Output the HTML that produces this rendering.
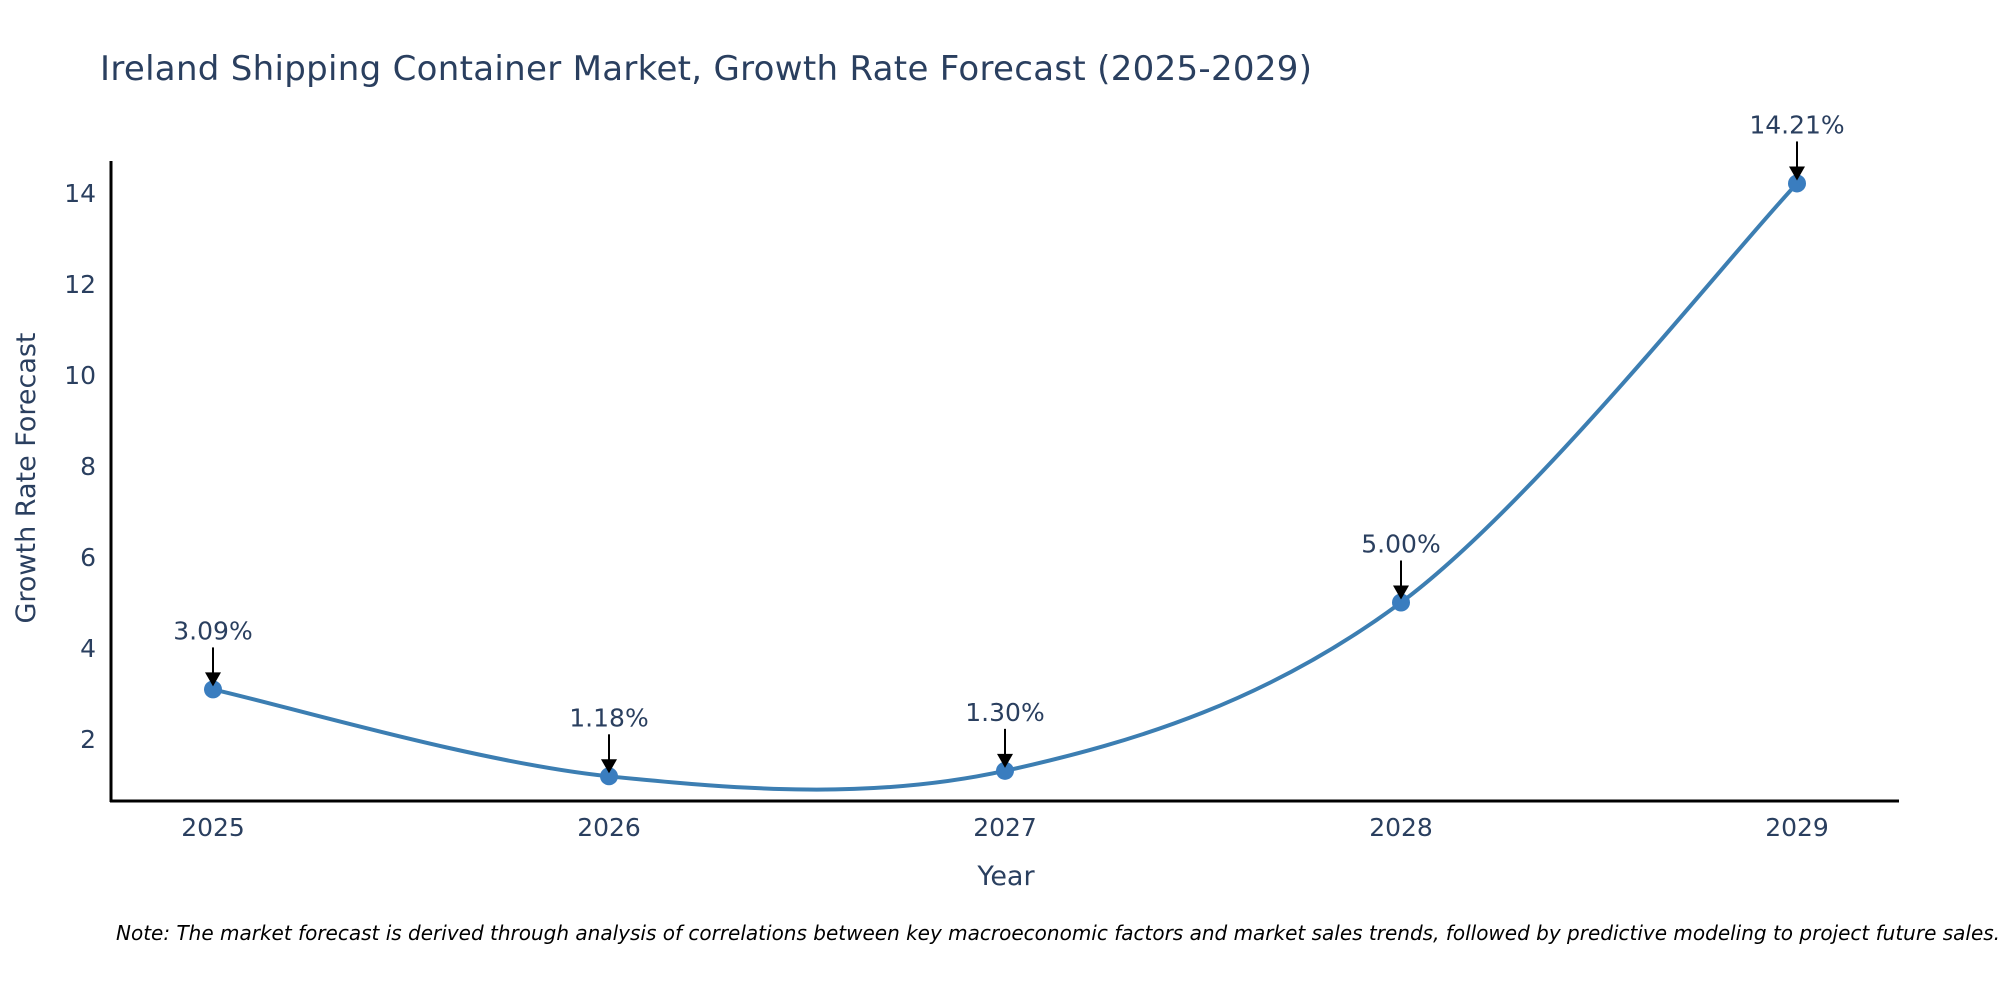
<!DOCTYPE html>
<html><head><meta charset="utf-8"><style>
html,body{margin:0;padding:0;background:#fff;}
svg{display:block;font-family:"DejaVu Sans","Liberation Sans",sans-serif;}
</style></head><body>
<svg id="chart" width="2000" height="1000" viewBox="0 0 2000 1000">
<text x="100" y="80" font-size="34" fill="#2a3f5f" textLength="1212">Ireland Shipping Container Market, Growth Rate Forecast (2025-2029)</text>
<g id="yticks"></g>
<g id="xticks"></g>
<path id="line" fill="none" stroke="#3c7eb2" stroke-width="4"/>
<g id="points"></g>
<g id="annots"></g>
<line x1="111" y1="161" x2="111" y2="802" stroke="#000" stroke-width="3"/>
<line x1="110" y1="801" x2="1899" y2="801" stroke="#000" stroke-width="3"/>
<text x="1006" y="885" font-size="27" fill="#2a3f5f" text-anchor="middle">Year</text>
<text transform="translate(35,478) rotate(-90)" font-size="27" fill="#2a3f5f" text-anchor="middle">Growth Rate Forecast</text>
<text x="116" y="940" font-size="20" font-style="italic" fill="#000">Note: The market forecast is derived through analysis of correlations between key macroeconomic factors and market sales trends, followed by predictive modeling to project future sales.</text>
</svg>
<script>
const years = [2025, 2026, 2027, 2028, 2029];
const values = [3.09, 1.18, 1.30, 5.00, 14.21];
const labels = ["3.09%", "1.18%", "1.30%", "5.00%", "14.21%"];
const yTicks = [2, 4, 6, 8, 10, 12, 14];

const NS = "http://www.w3.org/2000/svg";
function xs(v){ return 213 + (v - 2025) * (1797 - 213) / 4; }
function ys(v){ return 739 - (v - 2) * (739 - 193) / 12; }
function mk(tag, attrs, parent){ const e = document.createElementNS(NS, tag); for (const k in attrs) e.setAttribute(k, attrs[k]); parent.appendChild(e); return e; }

const yt = document.getElementById('yticks');
yTicks.forEach(t => {
  const e = mk('text', {x: 96, y: ys(t) + 9, 'font-size': 25, fill: '#2a3f5f', 'text-anchor': 'end'}, yt);
  
  
  e.textContent = t;
});
const xt = document.getElementById('xticks');
years.forEach(y => {
  const e = mk('text', {x: xs(y), y: 836, 'font-size': 25, fill: '#2a3f5f', 'text-anchor': 'middle'}, xt);
  
  
  e.textContent = y;
});

const pts = years.map((y, i) => [xs(y), ys(values[i])]);
let d = 'M' + pts[0][0] + ',' + pts[0][1];
const s = 1 / 6;
for (let i = 0; i < pts.length - 1; i++) {
  const p0 = pts[Math.max(0, i - 1)], p1 = pts[i], p2 = pts[i + 1], p3 = pts[Math.min(pts.length - 1, i + 2)];
  const c1 = [p1[0] + (p2[0] - p0[0]) * s, p1[1] + (p2[1] - p0[1]) * s];
  const c2 = [p2[0] - (p3[0] - p1[0]) * s, p2[1] - (p3[1] - p1[1]) * s];
  d += ' C' + c1 + ' ' + c2 + ' ' + p2;
}
document.getElementById('line').setAttribute('d', d);

const pg = document.getElementById('points');
const ag = document.getElementById('annots');
pts.forEach((p, i) => {
  const c = mk('circle', {cx: p[0], cy: p[1], r: 9, fill: '#3a7dbf'}, pg);
  
  
  const l = mk('line', {x1: p[0], y1: p[1] - 42, x2: p[0], y2: p[1] - 12, stroke: '#000', 'stroke-width': 2}, ag);
  
  
  const h = mk('polygon', {points: (p[0]-8)+','+(p[1]-17)+' '+(p[0]+8)+','+(p[1]-17)+' '+p[0]+','+(p[1]-3), fill: '#000'}, ag);
  
  
  const t = mk('text', {x: p[0], y: p[1] - 50, 'font-size': 25, fill: '#2a3f5f', 'text-anchor': 'middle'}, ag);
  
  
  t.textContent = labels[i];
});
</script>
</body></html>
